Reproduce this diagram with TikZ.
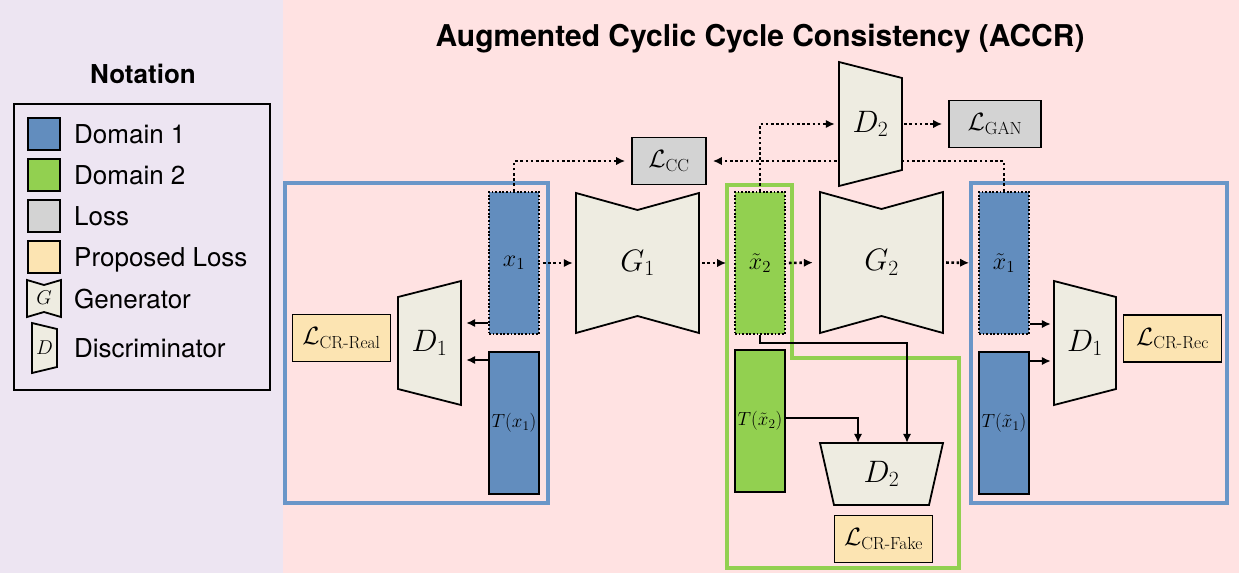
\documentclass[tikz,border=0pt]{standalone}
\usepackage{fix-cm}
\usepackage{amsmath}
\usepackage{fontspec}
\newfontfamily\helv{TeX Gyre Heros}
\usetikzlibrary{arrows.meta}
\definecolor{fondnotation}{RGB}{237,229,242}
\definecolor{fondrose}{RGB}{255,226,226}
\definecolor{bleu}{RGB}{98,141,190}
\definecolor{bleucadre}{RGB}{106,150,200}
\definecolor{vert}{RGB}{146,208,80}
\definecolor{gris}{RGB}{211,211,211}
\definecolor{beige}{RGB}{252,228,178}
\definecolor{creme}{RGB}{238,236,225}

\begin{document}
\begin{tikzpicture}[x=1pt, y=-1pt, >={Latex[length=9pt,width=8.5pt]}]
	\tikzstyle{domaine}=[rectangle, draw=black, line width=1.8pt, minimum width=50pt, minimum height=142pt, inner sep=0pt, font=\fontsize{24}{26}\selectfont]
	\tikzstyle{petit}=[font=\fontsize{19}{21}\selectfont]
	\tikzstyle{pointille}=[dash pattern=on 1.8pt off 1.8pt]
	\tikzstyle{perte}=[rectangle, draw=black, line width=1.8pt, inner sep=0pt, minimum height=47pt, font=\fontsize{25}{28}\selectfont]
	\tikzstyle{bloc}=[fill=creme, draw=black, line width=1.8pt]
	\tikzstyle{etiq}=[inner sep=0pt, font=\fontsize{31}{34}\selectfont]
	\tikzstyle{fleche}=[->, line width=2pt]
	\tikzstyle{flechept}=[->, line width=2.6pt, dash pattern=on 2.6pt off 2.6pt]
	\tikzstyle{legende}=[anchor=base west, inner sep=0pt, font=\helv\fontsize{26}{30}\selectfont]
	\tikzstyle{carre}=[rectangle, draw=black, line width=1.8pt, minimum size=32pt, inner sep=0pt]

	% FONDS
	\useasboundingbox (0,0) rectangle (1239,573);
	\fill[fondnotation] (0,0) rectangle (283,573);
	\fill[fondrose] (283,0) rectangle (1239,573);

	% NOTATION
	\node[anchor=base, font=\helv\bfseries\fontsize{26}{30}\selectfont] (notation) at (143,83) {Notation};
	\node[rectangle, draw=black, line width=2.4pt, minimum width=256pt, minimum height=286pt] (cadre) at (142,247) {};
	\node[carre, fill=bleu] (cbleu) at (44,134) {};
	\node[carre, fill=vert] (cvert) at (44,175) {};
	\node[carre, fill=gris] (cgris) at (44,216) {};
	\node[carre, fill=beige] (cbeige) at (44,257) {};
	\draw[bloc] (27,280) -- (44,285) -- (61,280) -- (61,317) -- (44,312) -- (27,317) -- cycle;
	\node[inner sep=0pt, font=\fontsize{20}{22}\selectfont] (cgen) at (44,298) {$G$};
	\draw[bloc] (32,323) -- (57,329) -- (57,367) -- (32,373) -- cycle;
	\node[inner sep=0pt, font=\fontsize{20}{22}\selectfont] (cdis) at (44.5,348) {$D$};
	\node[legende] (tbleu) at (74,143) {Domain 1};
	\node[legende] (tvert) at (74,184) {Domain 2};
	\node[legende] (tgris) at (74,225) {Loss};
	\node[legende] (tbeige) at (74,266) {Proposed Loss};
	\node[legende] (tgen) at (74,308) {Generator};
	\node[legende] (tdis) at (74,357) {Discriminator};

	% TITRE
	\node[anchor=base, font=\helv\bfseries\fontsize{30}{34}\selectfont] (titre) at (760,46) {Augmented Cyclic Cycle Consistency (ACCR)};

	% CADRES
	\draw[bleucadre, line width=3.2pt] (285,183) rectangle (548,503);
	\draw[bleucadre, line width=3.2pt] (971,183) rectangle (1227,503);
	\draw[vert, line width=3.2pt] (727,185) -- (792,185) -- (792,358) -- (959,358) -- (959,568) -- (727,568) -- cycle;

	% DONNEES
	\node[domaine, fill=bleu, pointille] (x1) at (514,263) {$x_1$};
	\node[domaine, fill=bleu, petit] (Tx1) at (514,423) {$T(x_1)$};
	\node[domaine, fill=vert, pointille] (xt2) at (760,263) {$\tilde{x}_2$};
	\node[domaine, fill=vert, petit] (Txt2) at (760,421) {$T(\tilde{x}_2)$};
	\node[domaine, fill=bleu, pointille] (xt1) at (1004,263) {$\tilde{x}_1$};
	\node[domaine, fill=bleu, petit] (Txt1) at (1004,423) {$T(\tilde{x}_1)$};

	% PERTES
	\node[perte, fill=gris, minimum width=74pt] (Lcc) at (669,161) {$\mathcal{L}_{\mathrm{CC}}$};
	\node[perte, fill=gris, minimum width=92pt] (Lgan) at (995,124) {$\mathcal{L}_{\mathrm{GAN}}$};
	\node[perte, fill=beige, minimum width=98pt] (Lreal) at (341.5,338) {$\mathcal{L}_{\text{CR-Real}}$};
	\node[perte, fill=beige, minimum width=98pt] (Lrec) at (1172.5,338.5) {$\mathcal{L}_{\text{CR-Rec}}$};
	\node[perte, fill=beige, minimum width=98pt] (Lfake) at (883.5,539) {$\mathcal{L}_{\text{CR-Fake}}$};

	% retour vers L_CC (sous D_2)
	\draw[flechept, shorten >=6pt] (xt1.north) |- (Lcc.east);

	% RESEAUX
	\draw[bloc] (576,193) -- (637.5,210) -- (699,193) -- (699,333) -- (637.5,316) -- (576,333) -- cycle;
	\draw[bloc] (820,192) -- (881.5,209) -- (943,192) -- (943,333) -- (881.5,316) -- (820,333) -- cycle;
	\draw[bloc] (398,297) -- (461,281) -- (461,405) -- (398,389) -- cycle;
	\draw[bloc] (1054,281) -- (1116,297) -- (1116,389) -- (1054,405) -- cycle;
	\draw[bloc] (839,62) -- (902,78) -- (902,170) -- (839,186) -- cycle;
	\draw[bloc] (820,443) -- (943,443) -- (929,505) -- (834,505) -- cycle;
	\node[etiq, minimum width=123pt, minimum height=140pt] (G1) at (637.5,263) {$G_1$};
	\node[etiq, minimum width=123pt, minimum height=141pt] (G2) at (881.5,262.5) {$G_2$};
	\node[etiq, minimum width=63pt, minimum height=124pt] (D1g) at (429.5,343) {$D_1$};
	\node[etiq, minimum width=62pt, minimum height=124pt] (D1d) at (1085,343) {$D_1$};
	\node[etiq, minimum width=63pt, minimum height=124pt] (D2h) at (870.5,124) {$D_2$};
	\node[etiq, minimum width=123pt, minimum height=62pt] (D2b) at (881.5,474) {$D_2$};

	% FLECHES
	\draw[flechept, shorten >=6pt] (x1.north) |- (Lcc.west);
	\draw[flechept, shorten >=4pt] (xt2.north) |- (D2h.west);
	\draw[flechept, shorten <=2pt, shorten >=6pt] (D2h.east) -- (Lgan.west);
	\draw[flechept, shorten <=3pt, shorten >=3pt] (x1.east) -- (G1.west);
	\draw[flechept, shorten <=3pt, shorten >=8pt] (G1.east) -- (xt2.west);
	\draw[flechept, shorten <=3pt, shorten >=7pt] (xt2.east) -- (G2.west);
	\draw[flechept, shorten <=3pt, shorten >=9pt] (G2.east) -- (xt1.west);
	\draw[fleche, shorten >=5pt] (x1.west |- 0,323) -- (D1g.east |- 0,323);
	\draw[fleche, shorten >=5pt] (Tx1.west |- 0,360) -- (D1g.east |- 0,360);
	\draw[fleche, shorten >=3pt] (xt1.east |- 0,324) -- (D1d.west |- 0,324);
	\draw[fleche, shorten >=3pt] (Txt1.east |- 0,361) -- (D1d.west |- 0,361);
	\draw[fleche] (xt2.south) -- (xt2.south |- 0,343) -| ([xshift=25.5pt]D2b.north);
	\draw[fleche] (Txt2.east |- 0,418) -| ([xshift=-23.5pt]D2b.north);
\end{tikzpicture}
\end{document}
